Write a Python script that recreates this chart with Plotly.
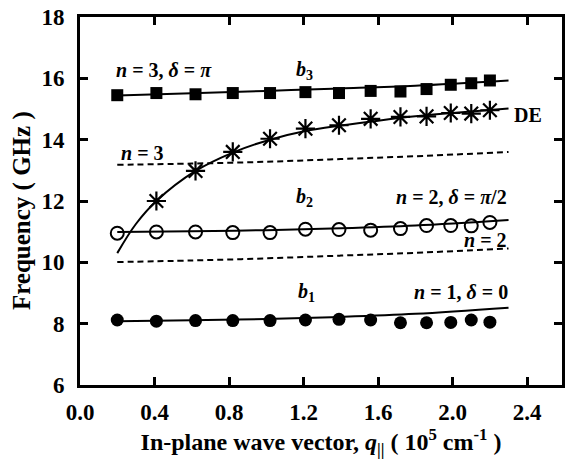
import plotly.graph_objects as go

# measured points
q = [0.20, 0.41, 0.62, 0.82, 1.02, 1.21, 1.39, 1.56, 1.72, 1.86, 1.99, 2.10, 2.20]
b3_pts = [15.45, 15.52, 15.48, 15.52, 15.52, 15.55, 15.52, 15.59, 15.57, 15.65, 15.79, 15.84, 15.93]
b2_pts = [10.95, 10.99, 10.99, 10.97, 10.97, 11.08, 11.07, 11.05, 11.10, 11.20, 11.20, 11.19, 11.30]
b1_pts = [8.12, 8.08, 8.10, 8.10, 8.10, 8.12, 8.14, 8.12, 8.03, 8.03, 8.04, 8.12, 8.05]
q_de = [0.41, 0.62, 0.82, 1.02, 1.21, 1.39, 1.56, 1.72, 1.86, 1.99, 2.10, 2.20]
de_pts = [12.0, 12.98, 13.6, 14.03, 14.36, 14.47, 14.68, 14.74, 14.76, 14.87, 14.85, 14.96]

# theoretical curves
q_fit = [0.20, 0.60, 1.00, 1.40, 1.80, 2.30]
b3_fit = [15.44, 15.51, 15.59, 15.67, 15.76, 15.93]
b2_fit = [10.99, 11.01, 11.05, 11.11, 11.20, 11.38]
b1_fit = [8.08, 8.11, 8.15, 8.22, 8.32, 8.52]
n3_fit = [13.18, 13.22, 13.28, 13.37, 13.46, 13.60]
n2_fit = [10.01, 10.06, 10.13, 10.22, 10.31, 10.45]
q_defit = [0.20, 0.30, 0.41, 0.62, 0.82, 1.02, 1.21, 1.40, 1.60, 1.80, 2.00, 2.30]
de_fit = [10.30, 11.25, 12.00, 12.98, 13.58, 14.00, 14.28, 14.46, 14.62, 14.76, 14.87, 15.02]

x_ticks = [0.0, 0.4, 0.8, 1.2, 1.6, 2.0, 2.4]
y_ticks = [6, 8, 10, 12, 14, 16, 18]

FONT = "Liberation Serif"
BLACK = "black"

fig = go.Figure()

def line(x, y, dash="solid", shape="linear"):
    fig.add_trace(go.Scatter(x=x, y=y, mode="lines", line=dict(color=BLACK, width=2, dash=dash, shape=shape),
                             showlegend=False, hoverinfo="skip"))

line(q_fit, b3_fit, shape="spline")
line(q_fit, b2_fit, shape="spline")
line(q_fit, b1_fit, shape="spline")
line(q_fit, n3_fit, dash="6px,4px", shape="spline")
line(q_fit, n2_fit, dash="6px,4px", shape="spline")
line(q_defit, de_fit, shape="spline")

fig.add_trace(go.Scatter(x=q, y=b3_pts, mode="markers", marker=dict(symbol="square", size=12, color=BLACK),
                         showlegend=False))
fig.add_trace(go.Scatter(x=q, y=b2_pts, mode="markers",
                         marker=dict(symbol="circle-open", size=13, color=BLACK, line=dict(width=2, color=BLACK)),
                         showlegend=False))
fig.add_trace(go.Scatter(x=q, y=b1_pts, mode="markers", marker=dict(symbol="circle", size=13, color=BLACK),
                         showlegend=False))
fig.add_trace(go.Scatter(x=q_de, y=de_pts, mode="markers",
                         marker=dict(symbol="asterisk-open", size=16, color=BLACK, line=dict(width=2.2, color=BLACK)),
                         showlegend=False))

ann_font = dict(family=FONT, size=20, color=BLACK)

def ann(x, y, text, xanchor="left"):
    fig.add_annotation(x=x, y=y, text=text, showarrow=False, xanchor=xanchor, yanchor="middle",
                       font=ann_font, xref="x", yref="y")

ann(0.18, 16.27, "<b><i>n</i> = 3, <i>δ</i> = <i>π</i></b>")
ann(1.15, 16.27, "<b><i>b</i><sub>3</sub></b>")
ann(2.32, 14.8, "<b>DE</b>")
ann(0.21, 13.57, "<b><i>n</i> = 3</b>")
ann(1.15, 12.13, "<b><i>b</i><sub>2</sub></b>")
ann(2.30, 12.13, "<b><i>n</i> = 2, <i>δ</i> = <i>π</i>/2</b>", xanchor="right")
ann(2.30, 10.73, "<b><i>n</i> = 2</b>", xanchor="right")
ann(1.16, 9.03, "<b><i>b</i><sub>1</sub></b>")
ann(2.31, 9.03, "<b><i>n</i> = 1, <i>δ</i> = 0</b>", xanchor="right")

# y-axis title (placed as rotated text, slightly below the plot centre as in the reference)
fig.add_annotation(x=-0.12, y=0.473, xref="paper", yref="paper", text="<b>Frequency ( GHz )</b>",
                   textangle=-90, showarrow=False, xanchor="center", yanchor="middle",
                   font=dict(family=FONT, size=25, color=BLACK))

axis_common = dict(showline=True, linewidth=3, linecolor=BLACK, mirror="ticks", ticks="inside",
                   ticklen=8, tickwidth=3, tickcolor=BLACK, showgrid=False, zeroline=False,
                   tickfont=dict(family=FONT, size=23, color=BLACK))

fig.update_layout(
    width=568, height=463,
    margin=dict(l=80, r=3, t=17, b=78),
    plot_bgcolor="white", paper_bgcolor="white",
    xaxis=dict(range=[0, 2.587], tickvals=x_ticks, ticktext=[f"<b>{v:.1f}</b>" for v in x_ticks],
               title=dict(text="<b>In-plane wave vector, <i>q</i><sub>||</sub> ( 10<sup>5</sup> cm<sup>-1</sup> )</b>",
                          font=dict(family=FONT, size=24, color=BLACK), standoff=8),
               ticklabelstandoff=4, **axis_common),
    yaxis=dict(range=[6, 18], tickvals=y_ticks, ticktext=[f"<b>{v}</b>" for v in y_ticks],
               ticklabelstandoff=8, **axis_common),
)

fig.write_html("out.html")
